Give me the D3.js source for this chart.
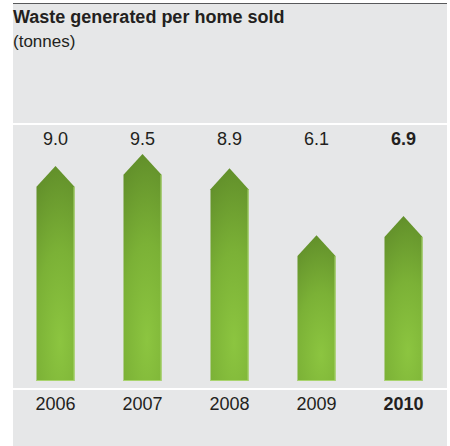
<!DOCTYPE html>
<html>
<head>
<meta charset="utf-8">
<script src="https://cdn.jsdelivr.net/npm/d3@7/dist/d3.min.js"></script>
<style>
  html, body { margin: 0; padding: 0; background: #ffffff; }
  svg { display: block; }
  text { font-family: "Liberation Sans", Arial, Helvetica, sans-serif; }
</style>
</head>
<body>
<svg id="chart" width="450" height="446"></svg>
<script>
// Waste generated per home sold, tonnes
const years = ["2006", "2007", "2008", "2009", "2010"];
const values = [9.0, 9.5, 8.9, 6.1, 6.9];
const labels = ["9.0", "9.5", "8.9", "6.1", "6.9"];
const highlightYear = "2010";

const W = 450, H = 446;
const panelLeft = 13, panelRight = 447;

const svg = d3.select("#chart");

// gray panel
svg.append("rect")
  .attr("x", panelLeft).attr("y", 3)
  .attr("width", panelRight - panelLeft).attr("height", H - 3)
  .attr("fill", "#e6e7e8");

// dark rule at top
svg.append("line")
  .attr("x1", panelLeft).attr("x2", panelRight)
  .attr("y1", 3.5).attr("y2", 3.5)
  .attr("stroke", "#58595b").attr("stroke-width", 1.2);

// title + unit
svg.append("text")
  .attr("x", panelLeft).attr("y", 23)
  .attr("font-size", 18).attr("font-weight", "bold")
  .attr("fill", "#231f20")
  .text("Waste generated per home sold");
svg.append("text")
  .attr("x", panelLeft).attr("y", 47)
  .attr("font-size", 17)
  .attr("fill", "#231f20")
  .text("(tonnes)");

// white separators above value row and below bars
[124, 389].forEach(yy => {
  svg.append("line")
    .attr("x1", panelLeft).attr("x2", panelRight)
    .attr("y1", yy).attr("y2", yy)
    .attr("stroke", "#ffffff").attr("stroke-width", 2);
});

const x = d3.scaleBand()
  .domain(years)
  .range([12, 447])
  .paddingInner(0.563)
  .paddingOuter(0.2815);

const y = d3.scaleLinear().domain([0, 10]).range([381, 142]);

// bar gradient: dark olive at top, bright green lower right
const defs = svg.append("defs");
const grad = defs.append("radialGradient")
  .attr("id", "barGrad")
  .attr("cx", "0.62").attr("cy", "0.82")
  .attr("r", "0.95")
  .attr("gradientTransform", "translate(0.62,0.82) scale(1.6,1) translate(-0.62,-0.82)");
grad.append("stop").attr("offset", "0%").attr("stop-color", "#8cc540");
grad.append("stop").attr("offset", "45%").attr("stop-color", "#7bb136");
grad.append("stop").attr("offset", "100%").attr("stop-color", "#5a8527");

const data = years.map((yr, i) => ({ year: yr, value: values[i], label: labels[i] }));

const arrowPath = d => {
  const x0 = x(d.year), x1 = x0 + x.bandwidth();
  const cx = (x0 + x1) / 2, hw = x.bandwidth() / 2;
  const tip = y(d.value), base = y(0);
  const shoulder = tip + hw * 1.1;
  return `M${x0},${base}L${x0},${shoulder}L${cx},${tip}L${x1},${shoulder}L${x1},${base}Z`;
};

const bars = svg.append("g").selectAll("g.bar").data(data).join("g").attr("class", "bar");

bars.append("path")
  .attr("d", arrowPath)
  .attr("fill", "url(#barGrad)");

// thin light edge on right and bottom of each bar
bars.append("path")
  .attr("d", d => {
    const x0 = x(d.year), x1 = x0 + x.bandwidth();
    const hw = x.bandwidth() / 2;
    const shoulder = y(d.value) + hw * 1.1;
    return `M${x1 - 0.5},${shoulder}L${x1 - 0.5},${y(0) - 0.5}L${x0},${y(0) - 0.5}`;
  })
  .attr("fill", "none")
  .attr("stroke", "#a9d46e")
  .attr("stroke-width", 1);

// value row
svg.append("g").selectAll("text").data(data).join("text")
  .attr("x", d => x(d.year) + x.bandwidth() / 2)
  .attr("y", 145)
  .attr("text-anchor", "middle")
  .attr("font-size", 18)
  .attr("font-weight", d => d.year === highlightYear ? "bold" : "normal")
  .attr("fill", "#231f20")
  .text(d => d.label);

// year axis
const xAxis = d3.axisBottom(x).tickSize(0).tickPadding(0);
const axisG = svg.append("g").attr("transform", "translate(0,393)").call(xAxis);
axisG.select(".domain").remove();
axisG.selectAll(".tick text")
  .attr("dy", null)
  .attr("y", 17)
  .attr("font-size", 18)
  .attr("font-family", "\"Liberation Sans\", Arial, sans-serif")
  .attr("font-weight", d => d === highlightYear ? "bold" : "normal")
  .attr("fill", "#231f20");
</script>
</body>
</html>
